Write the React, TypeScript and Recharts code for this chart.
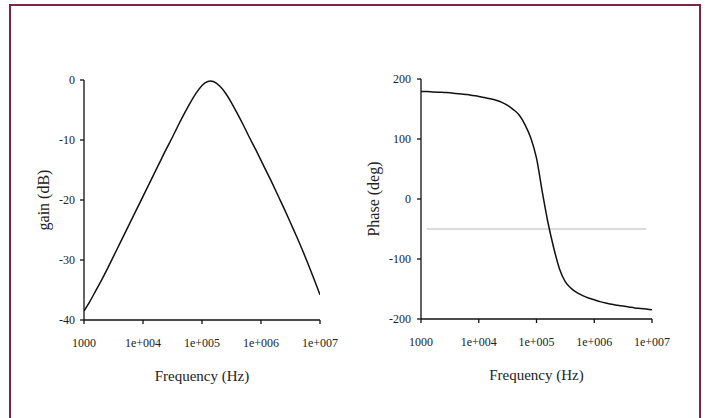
import React from "react";
import { LineChart, Line, XAxis, YAxis, Label, ReferenceLine } from "recharts";

// Frequencies (Hz), 10 points per decade from 1e3 to 1e7
const freqs = [
  1000, 1259, 1585, 1995, 2512, 3162, 3981, 5012, 6310, 7943,
  10000, 12589, 15849, 19953, 25119, 31623, 39811, 50119, 63096, 79433,
  100000, 125893, 158489, 199526, 251189, 316228, 398107, 501187, 630957, 794328,
  1000000, 1258925, 1584893, 1995262, 2511886, 3162278, 3981072, 5011872, 6309573, 7943282,
  10000000,
];

const gainDb = [
  -38.5, -36.9, -35.1, -33.3, -31.4, -29.4, -27.4, -25.4, -23.4, -21.4,
  -19.4, -17.4, -15.4, -13.4, -11.4, -9.5, -7.5, -5.6, -3.8, -2.2,
  -0.9, -0.25, -0.3, -1.0, -2.2, -3.8, -5.6, -7.5, -9.5, -11.4,
  -13.4, -15.4, -17.4, -19.5, -21.6, -23.8, -26.0, -28.3, -30.7, -33.2,
  -35.8,
];

const phaseDeg = [
  179, 179, 178.5, 178, 177.5, 177, 176, 175, 174, 172.5,
  171, 169, 167, 164.5, 161, 156, 149, 140, 124, 102,
  68, 12, -40, -82, -117, -138, -149, -156, -161, -165,
  -168, -171, -173.5, -175.5, -177, -178.5, -180, -181.5, -182.5, -183.5,
  -184.5,
];

const xTicks = [1000, 10000, 100000, 1000000, 10000000];
const xTickLabels = ["1000", "1e+004", "1e+005", "1e+006", "1e+007"];
const gainTicks = [0, -10, -20, -30, -40];
const phaseTicks = [200, 100, 0, -100, -200];
const refPhase = -50;
const refSpan = [1259, 7943282];

const gainData = freqs.map((f, i) => ({ f, v: gainDb[i] }));
const phaseData = freqs.map((f, i) => ({ f, v: phaseDeg[i] }));

const fmtX = (v: number) => {
  const i = xTicks.indexOf(v);
  return i >= 0 ? xTickLabels[i] : String(v);
};

const tickStyle = { fontFamily: "Liberation Serif", fontSize: 12, fill: "#222" };
const titleStyle = { fontFamily: "Liberation Serif", fontSize: 15, fill: "#222" };
const axisLine = { stroke: "#111", strokeWidth: 1.3 };

export default function App() {
  return (
    <div style={{ position: "absolute", left: 0, top: 0, width: 705, height: 418, overflow: "hidden", background: "#fff" }}>
      <div style={{ position: "absolute", left: 9, top: 4, width: 688, height: 440, border: "2px solid #7d2447", boxSizing: "content-box" }} />
      <div style={{ position: "absolute", left: 0, top: 0 }}>
        <LineChart width={340} height={418} data={gainData} margin={{ top: 80, right: 20, bottom: 68, left: 24 }}>
          <XAxis
            dataKey="f"
            type="number"
            scale="log"
            domain={[1000, 10000000]}
            ticks={xTicks}
            tickFormatter={fmtX}
            height={30}
            tick={tickStyle}
            tickSize={4}
            tickMargin={14}
            axisLine={axisLine}
            tickLine={axisLine}
            allowDataOverflow
          >
            <Label value="Frequency (Hz)" position="bottom" offset={20} style={titleStyle} />
          </XAxis>
          <YAxis
            type="number"
            domain={[-40, 0]}
            ticks={gainTicks}
            width={60}
            tick={tickStyle}
            tickSize={4}
            tickMargin={5}
            axisLine={axisLine}
            tickLine={axisLine}
            allowDataOverflow
          >
            <Label value="gain (dB)" angle={-90} position="insideLeft" offset={19} style={{ ...titleStyle, fontSize: 16, textAnchor: "middle" }} />
          </YAxis>
          <Line dataKey="v" type="natural" stroke="#111" strokeWidth={1.5} dot={false} isAnimationActive={false} />
        </LineChart>
      </div>
      <div style={{ position: "absolute", left: 340, top: 0 }}>
        <LineChart width={365} height={418} data={phaseData} margin={{ top: 79, right: 53, bottom: 69, left: 21 }}>
          <XAxis
            dataKey="f"
            type="number"
            scale="log"
            domain={[1000, 10000000]}
            ticks={xTicks}
            tickFormatter={fmtX}
            height={30}
            tick={tickStyle}
            tickSize={4}
            tickMargin={14}
            axisLine={axisLine}
            tickLine={axisLine}
            allowDataOverflow
          >
            <Label value="Frequency (Hz)" position="bottom" offset={20} style={titleStyle} />
          </XAxis>
          <YAxis
            type="number"
            domain={[-200, 200]}
            ticks={phaseTicks}
            width={60}
            tick={tickStyle}
            tickSize={4}
            tickMargin={6}
            axisLine={axisLine}
            tickLine={axisLine}
            allowDataOverflow
          >
            <Label value="Phase (deg)" angle={-90} position="insideLeft" offset={12} style={{ ...titleStyle, fontSize: 16, textAnchor: "middle" }} />
          </YAxis>
          <ReferenceLine
            segment={[{ x: refSpan[0], y: refPhase }, { x: refSpan[1], y: refPhase }]}
            stroke="#cfcfcf"
            strokeWidth={1.5}
          />
          <Line dataKey="v" type="monotone" stroke="#111" strokeWidth={1.5} dot={false} isAnimationActive={false} />
        </LineChart>
      </div>
    </div>
  );
}
